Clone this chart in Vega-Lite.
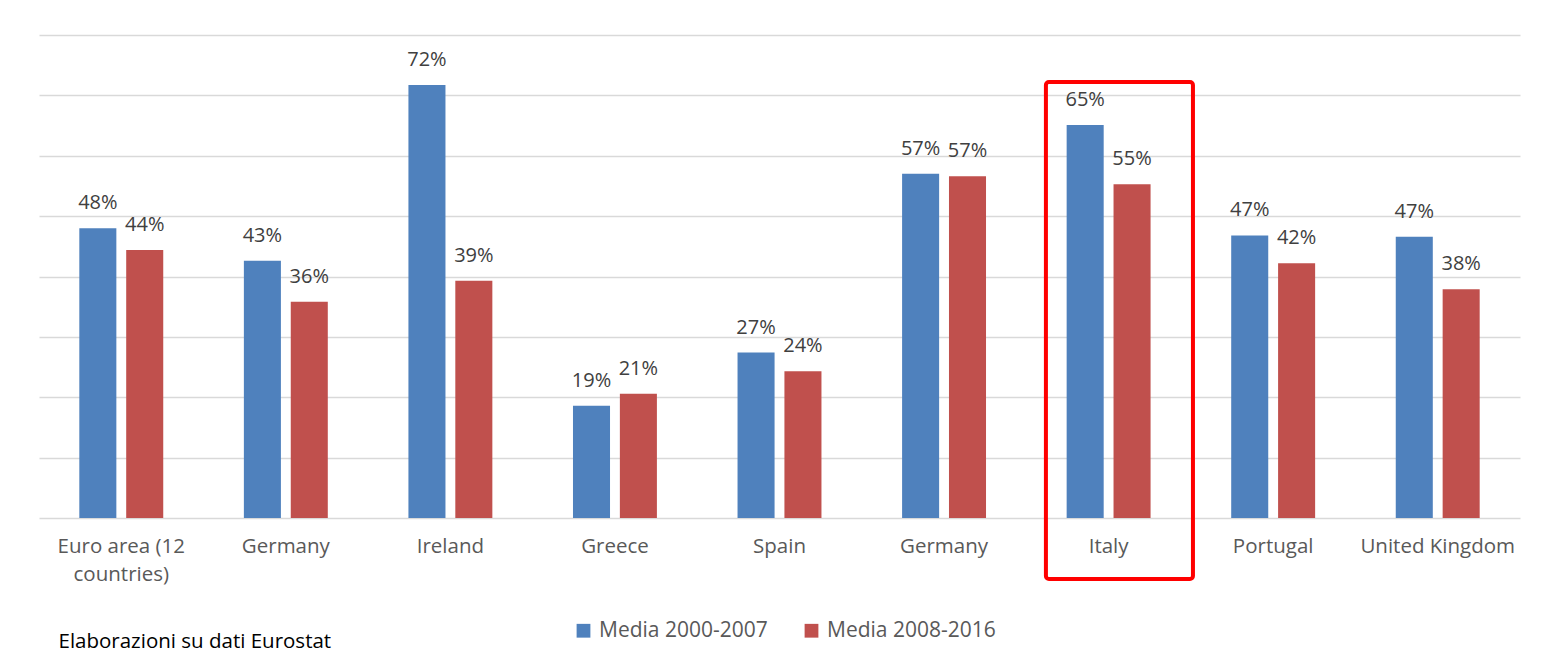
{
  "$schema": "https://vega.github.io/schema/vega-lite/v6.json",
  "width": 1481,
  "height": 483,
  "padding": {"left": 39, "top": 35, "right": 20, "bottom": 30},
  "background": "white",
  "config": {
    "font": "Open Sans",
    "view": {"stroke": null}
  },
  "datasets": {
    "bars": [
      {"country": "Euro area (12 countries)", "series": "Media 2000-2007", "value": 0.480},
      {"country": "Euro area (12 countries)", "series": "Media 2008-2016", "value": 0.444},
      {"country": "Germany", "series": "Media 2000-2007", "value": 0.426},
      {"country": "Germany", "series": "Media 2008-2016", "value": 0.358},
      {"country": "Ireland", "series": "Media 2000-2007", "value": 0.717},
      {"country": "Ireland", "series": "Media 2008-2016", "value": 0.393},
      {"country": "Greece", "series": "Media 2000-2007", "value": 0.186},
      {"country": "Greece", "series": "Media 2008-2016", "value": 0.206},
      {"country": "Spain", "series": "Media 2000-2007", "value": 0.274},
      {"country": "Spain", "series": "Media 2008-2016", "value": 0.243},
      {"country": "Germany (2)", "series": "Media 2000-2007", "value": 0.570},
      {"country": "Germany (2)", "series": "Media 2008-2016", "value": 0.566},
      {"country": "Italy", "series": "Media 2000-2007", "value": 0.651},
      {"country": "Italy", "series": "Media 2008-2016", "value": 0.553},
      {"country": "Portugal", "series": "Media 2000-2007", "value": 0.468},
      {"country": "Portugal", "series": "Media 2008-2016", "value": 0.422},
      {"country": "United Kingdom", "series": "Media 2000-2007", "value": 0.466},
      {"country": "United Kingdom", "series": "Media 2008-2016", "value": 0.379}
    ],
    "highlight": [
      {"country": "Italy", "lo": -0.101, "hi": 0.722}
    ]
  },
  "encoding": {
    "x": {
      "field": "country",
      "type": "nominal",
      "scale": {
        "domain": ["Euro area (12 countries)", "Germany", "Ireland", "Greece", "Spain", "Germany (2)", "Italy", "Portugal", "United Kingdom"],
        "paddingInner": 0.49,
        "paddingOuter": 0.245
      },
      "axis": {
        "title": "Elaborazioni su dati Eurostat",
        "titleAnchor": "start",
        "titleAlign": "left",
        "titleX": 19,
        "titleY": 113,
        "titleFont": "Open Sans",
        "titleFontSize": 20.5,
        "titleFontWeight": "normal",
        "titleColor": "#000000",
        "labelAngle": 0,
        "labelFont": "Open Sans",
        "labelFontSize": 20.5,
        "labelColor": "#595959",
        "labelPadding": 18,
        "labelLineHeight": 28,
        "labelExpr": "datum.value == 'Euro area (12 countries)' ? ['Euro area (12', 'countries)'] : replace(datum.value, ' (2)', '')",
        "ticks": false,
        "domainColor": "#D9D9D9",
        "domainWidth": 1.3
      }
    },
    "y": {
      "type": "quantitative",
      "scale": {"domain": [0, 0.8], "nice": false},
      "axis": {
        "title": null,
        "labels": false,
        "ticks": false,
        "domain": false,
        "grid": true,
        "gridColor": "#D9D9D9",
        "gridWidth": 1.3,
        "values": [0.1, 0.2, 0.3, 0.4, 0.5, 0.6, 0.7, 0.8]
      }
    }
  },
  "layer": [
    {
      "data": {"name": "bars"},
      "mark": {"type": "bar"},
      "encoding": {
        "y": {"field": "value", "type": "quantitative"},
        "xOffset": {
          "field": "series",
          "type": "nominal",
          "scale": {"paddingInner": 0.21, "paddingOuter": 0}
        },
        "color": {
          "field": "series",
          "type": "nominal",
          "scale": {"domain": ["Media 2000-2007", "Media 2008-2016"], "range": ["#4F81BD", "#C0504D"]},
          "legend": {
            "title": null,
            "orient": "none",
            "direction": "horizontal",
            "legendX": 534,
            "legendY": 585,
            "symbolType": "square",
            "symbolSize": 190,
            "symbolStrokeWidth": 0,
            "labelFont": "Open Sans",
            "labelFontSize": 21,
            "labelColor": "#595959",
            "labelOffset": 5,
            "labelLimit": 400,
            "columnPadding": 33
          }
        }
      }
    },
    {
      "data": {"name": "bars"},
      "mark": {"type": "text", "baseline": "bottom", "dy": -15, "font": "Open Sans", "fontSize": 20, "color": "#404040"},
      "encoding": {
        "y": {"field": "value", "type": "quantitative"},
        "xOffset": {"field": "series", "type": "nominal"},
        "text": {"field": "value", "type": "quantitative", "format": ".0%"}
      }
    },
    {
      "data": {"name": "highlight"},
      "mark": {"type": "rect", "fill": null, "stroke": "#FF0000", "strokeWidth": 4, "cornerRadius": 3},
      "encoding": {
        "x": {"field": "country", "type": "nominal", "bandPosition": -0.247},
        "x2": {"field": "country", "bandPosition": 1.505},
        "y": {"field": "lo", "type": "quantitative"},
        "y2": {"field": "hi"}
      }
    }
  ]
}
